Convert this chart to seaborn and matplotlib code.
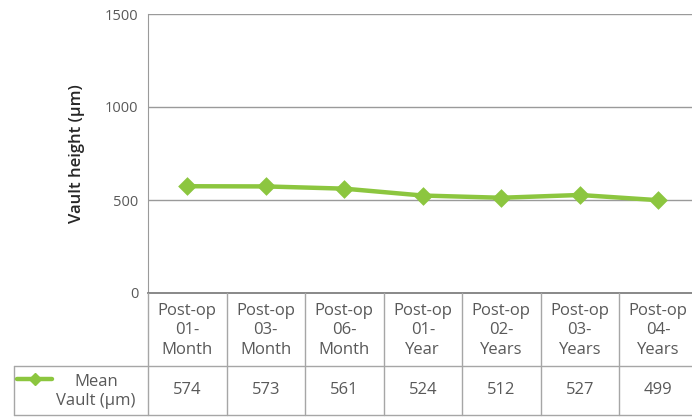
import matplotlib
matplotlib.use("Agg")
import matplotlib.pyplot as plt
import seaborn as sns
import pandas as pd
from matplotlib.lines import Line2D

# data
periods = ["Post-op\n01-\nMonth", "Post-op\n03-\nMonth", "Post-op\n06-\nMonth",
           "Post-op\n01-\nYear", "Post-op\n02-\nYears", "Post-op\n03-\nYears",
           "Post-op\n04-\nYears"]
mean_vault = [574, 573, 561, 524, 512, 527, 499]
series_name = "Mean\nVault (\u03bcm)"
y_ticks = [0, 500, 1000, 1500]

df = pd.DataFrame({"period": periods, "vault": mean_vault})

sns.set_style("white")
plt.rcParams["font.family"] = ["Open Sans", "DejaVu Sans"]

green = "#8cc63f"
grid_c = "#9a9a9a"
text_c = "#595959"

W, H = 692, 417
fig = plt.figure(figsize=(W / 100, H / 100), dpi=100)

# plot area in pixels
px_left, px_top, px_bottom = 148, 14, 293
col_w = 78.5
n = len(periods)
px_right = px_left + col_w * n
ax = fig.add_axes([px_left / W, (H - px_bottom) / H,
                   (px_right - px_left) / W, (px_bottom - px_top) / H])

sns.pointplot(data=df, x="period", y="vault", ax=ax, color=green,
              markers="D", linestyles="-", markersize=7, linewidth=3.2)
ax.set_xlim(-0.5, n - 0.5)
ax.set_ylim(0, 1500)
ax.set_yticks(y_ticks)
ax.set_yticklabels([str(t) for t in y_ticks], color=text_c, fontsize=10.5)
ax.tick_params(axis="y", length=5, color=grid_c, width=1, pad=2)
ax.set_xticks([])
ax.set_xlabel("")
ax.set_ylabel("Vault height (\u03bcm)", fontsize=12, fontweight="semibold",
              color="#262626", labelpad=14)
for t in y_ticks[1:]:
    ax.axhline(t, color=grid_c, lw=1, zorder=0)
for s in ["top", "right"]:
    ax.spines[s].set_visible(False)
ax.spines["left"].set_color(grid_c)
ax.spines["bottom"].set_color("#7f7f7f")
ax.spines["bottom"].set_linewidth(1.3)

# data table below the plot, drawn in pixel coordinates
tab = fig.add_axes([0, 0, 1, 1], facecolor="none")
tab.set_xlim(0, W)
tab.set_ylim(H, 0)
tab.axis("off")
row1_bot, row2_bot, tab_left = 366, 415, 14
lc = "#a6a6a6"
bounds = [px_left + col_w * i for i in range(n + 1)]
for x in bounds:
    tab.plot([x, x], [px_bottom, row2_bot], color=lc, lw=1)
tab.plot([tab_left, tab_left], [row1_bot, row2_bot], color=lc, lw=1)
tab.plot([tab_left, px_right], [row1_bot, row1_bot], color=lc, lw=1)
tab.plot([tab_left, px_right], [row2_bot, row2_bot], color=lc, lw=1)

for i, (lab, v) in enumerate(zip(periods, mean_vault)):
    cx = px_left + col_w * (i + 0.5)
    tab.text(cx, (px_bottom + row1_bot) / 2 + 1, lab, ha="center", va="center",
             color=text_c, fontsize=12, linespacing=1.3)
    tab.text(cx, (row1_bot + row2_bot) / 2, str(v), ha="center", va="center",
             color=text_c, fontsize=12)

tab.add_line(Line2D([17, 52], [379, 379], color=green, lw=3.2))
tab.plot([34.5], [379], marker="D", color=green, markersize=6)
tab.text(96, (row1_bot + row2_bot) / 2 + 1, series_name, ha="center", va="center",
         color=text_c, fontsize=12, linespacing=1.3)

fig.savefig("out.png", dpi=100)
